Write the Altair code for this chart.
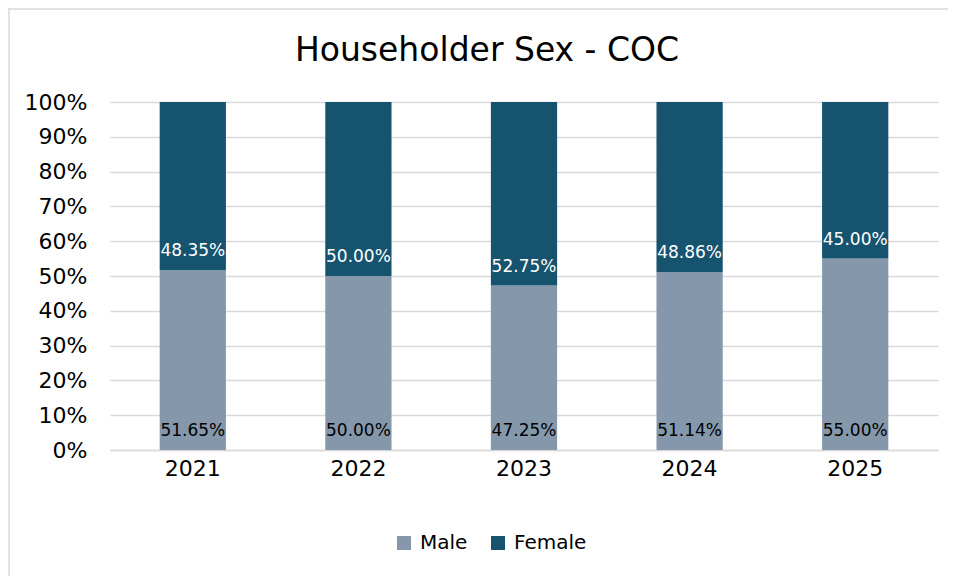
import altair as alt
import pandas as pd

years = ["2021", "2022", "2023", "2024", "2025"]
male = [51.65, 50.00, 47.25, 51.14, 55.00]
female = [48.35, 50.00, 52.75, 48.86, 45.00]
series = ["Male", "Female"]
colors = ["#8598AB", "#15536F"]
text_colors = ["#000000", "#FFFFFF"]

rows = []
for i, y in enumerate(years):
    rows.append({"year": y, "sex": "Male", "value": male[i] / 100, "ord": 0, "tc": text_colors[0]})
    rows.append({"year": y, "sex": "Female", "value": female[i] / 100, "ord": 1, "tc": text_colors[1]})
df = pd.DataFrame(rows)

FONT = "DejaVu Sans"
W, H = 828, 348
tick_vals = [0.0, 0.1, 0.2, 0.3, 0.4, 0.5, 0.6, 0.7, 0.8, 0.9, 1.0]

base = alt.Chart(df).transform_stack(
    stack="value", groupby=["year"], sort=[alt.SortField("ord", order="ascending")], as_=["v0", "v1"]
)

x_enc = alt.X(
    "year:N",
    title=None,
    scale=alt.Scale(paddingInner=0.6, paddingOuter=0.3),
    axis=alt.Axis(labelAngle=0, labelFontSize=22, labelColor="#000000", labelFont=FONT,
                  ticks=False, domainColor="#D9D9D9", domainWidth=1.5, labelPadding=8),
)
y_enc = alt.Y("v0:Q", title=None,
              scale=alt.Scale(domain=[0, 1], nice=False),
              axis=alt.Axis(format=".0%", values=tick_vals, tickCount=11, labelFontSize=22,
                            labelColor="#000000", labelFont=FONT, ticks=False, domain=False,
                            labelOverlap=False,
                            gridColor="#D9D9D9", gridWidth=1.5, labelPadding=23))

bars = base.mark_bar().encode(
    x=x_enc,
    y=y_enc,
    y2="v1:Q",
    color=alt.Color("sex:N", sort=series,
                    scale=alt.Scale(domain=series, range=colors),
                    legend=alt.Legend(title=None, orient="none", direction="horizontal",
                                      legendX=284, legendY=431, symbolType="square",
                                      symbolSize=196, symbolStrokeWidth=0, labelFontSize=20,
                                      labelFont=FONT, labelColor="#000000", labelOffset=6,
                                      columnPadding=20)),
)

labels = base.mark_text(baseline="bottom", dy=-10, fontSize=17, font=FONT).encode(
    x=x_enc,
    y=y_enc,
    text=alt.Text("value:Q", format=".2%"),
    color=alt.Color("tc:N", scale=None),
)

left_border = alt.Chart(pd.DataFrame({"a": [0]})).mark_rule(color="#D9D9D9", strokeWidth=1.5).encode(
    x=alt.value(-101), y=alt.value(-94), y2=alt.value(H + 140)
)
top_border = alt.Chart(pd.DataFrame({"a": [0]})).mark_rule(color="#D9D9D9", strokeWidth=1.5).encode(
    x=alt.value(-101), x2=alt.value(W + 30), y=alt.value(-93)
)

chart = alt.layer(bars, labels, left_border, top_border).properties(
    width=W, height=H,
    padding={"left": 102, "top": 94, "right": 10, "bottom": 126},
    autosize=alt.AutoSizeParams(type="none"),
    title=alt.TitleParams("Householder Sex - COC", fontSize=33, font=FONT, fontWeight="normal",
                          color="#000000", offset=24, dy=85, dx=-37, anchor="middle"),
).configure_view(stroke=None)

chart.save("out.html", embed_options={"renderer": "svg", "actions": False})
